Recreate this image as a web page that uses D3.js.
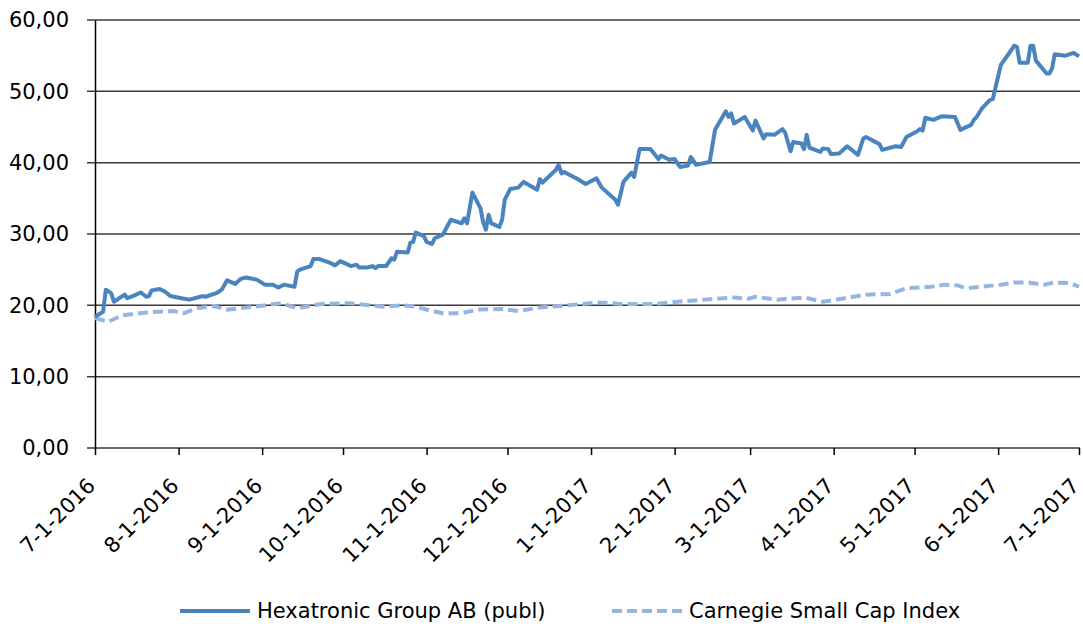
<!DOCTYPE html>
<html>
<head>
<meta charset="utf-8">
<script src="https://cdn.jsdelivr.net/npm/d3@7"></script>
<style>
  body { margin: 0; background: #fff; }
  text { font-family: "DejaVu Sans", sans-serif; fill: #000; }
</style>
</head>
<body>
<script>
// Hexatronic Group AB (publ)
const hexDates = ["2016-07-01","2016-07-04","2016-07-05","2016-07-07","2016-07-08","2016-07-12","2016-07-13","2016-07-15","2016-07-18","2016-07-20","2016-07-21","2016-07-22","2016-07-25","2016-07-27","2016-07-29",
  "2016-08-02","2016-08-05","2016-08-08","2016-08-10","2016-08-11","2016-08-15","2016-08-17","2016-08-19","2016-08-22","2016-08-24","2016-08-26","2016-08-30",
  "2016-09-02","2016-09-05","2016-09-07","2016-09-09","2016-09-13","2016-09-14","2016-09-15","2016-09-19","2016-09-20","2016-09-22","2016-09-26","2016-09-28","2016-09-30",
  "2016-10-04","2016-10-06","2016-10-07","2016-10-10","2016-10-12","2016-10-13","2016-10-14","2016-10-17","2016-10-19","2016-10-20","2016-10-21","2016-10-25","2016-10-26","2016-10-27","2016-10-28","2016-10-31",
  "2016-11-01","2016-11-03","2016-11-04","2016-11-07","2016-11-08","2016-11-10","2016-11-14","2016-11-15","2016-11-16","2016-11-18","2016-11-21","2016-11-22","2016-11-23","2016-11-24","2016-11-25","2016-11-28","2016-11-29","2016-11-30",
  "2016-12-02","2016-12-05","2016-12-07","2016-12-12","2016-12-13","2016-12-14","2016-12-19","2016-12-20","2016-12-21","2016-12-22","2016-12-27","2016-12-30",
  "2017-01-03","2017-01-05","2017-01-10","2017-01-11","2017-01-13","2017-01-16","2017-01-17","2017-01-19","2017-01-23","2017-01-26","2017-01-27","2017-01-30",
  "2017-02-01","2017-02-03","2017-02-06","2017-02-07","2017-02-09","2017-02-14","2017-02-16","2017-02-20","2017-02-21","2017-02-22","2017-02-23","2017-02-27",
  "2017-03-02","2017-03-03","2017-03-06","2017-03-07","2017-03-10","2017-03-13","2017-03-14","2017-03-16","2017-03-17","2017-03-20","2017-03-21","2017-03-22","2017-03-23","2017-03-27","2017-03-28","2017-03-30","2017-03-31",
  "2017-04-03","2017-04-06","2017-04-10","2017-04-12","2017-04-13","2017-04-18","2017-04-19","2017-04-24","2017-04-26","2017-04-28",
  "2017-05-02","2017-05-03","2017-05-04","2017-05-05","2017-05-08","2017-05-11","2017-05-16","2017-05-18","2017-05-22","2017-05-23","2017-05-24","2017-05-26","2017-05-29","2017-05-30",
  "2017-06-02","2017-06-05","2017-06-07","2017-06-08","2017-06-09","2017-06-12","2017-06-13","2017-06-14","2017-06-15","2017-06-19","2017-06-20","2017-06-21","2017-06-22","2017-06-26","2017-06-29","2017-07-01"];
const hexValues = [18.4,19.1,22.2,21.7,20.5,21.5,21.0,21.3,21.8,21.2,21.3,22.1,22.3,21.9,21.3,
  21.0,20.8,21.1,21.3,21.2,21.7,22.2,23.5,23.0,23.7,23.9,23.6,
  22.9,22.9,22.5,22.9,22.6,24.7,25.0,25.5,26.5,26.5,26.0,25.6,26.2,
  25.5,25.7,25.3,25.3,25.5,25.2,25.5,25.5,26.6,26.4,27.5,27.4,28.8,28.9,30.2,29.7,
  28.9,28.6,29.4,29.9,30.6,32.0,31.5,32.2,31.5,35.8,33.6,31.6,30.6,32.7,31.5,31.0,32.0,34.8,
  36.3,36.5,37.3,36.2,37.7,37.2,39.0,39.7,38.5,38.7,37.7,37.0,
  37.8,36.5,34.8,34.1,37.3,38.6,38.0,41.9,41.9,40.5,41.0,40.4,
  40.5,39.4,39.6,40.8,39.7,40.1,44.6,47.2,46.4,46.9,45.5,46.4,
  44.5,45.9,43.4,44.0,43.9,44.7,44.2,41.6,42.9,42.7,41.9,43.9,42.1,41.5,42.0,41.9,41.2,
  41.3,42.3,41.1,43.4,43.6,42.6,41.8,42.3,42.2,43.6,
  44.4,44.7,44.5,46.3,46.0,46.5,46.4,44.6,45.3,46.0,46.4,47.6,48.8,48.9,
  53.7,55.3,56.4,56.2,54.0,54.0,56.4,56.4,54.3,52.5,52.5,53.2,55.2,55.0,55.4,54.9];

// Carnegie Small Cap Index
const idxDates = ["2016-07-01","2016-07-06","2016-07-11","2016-07-20","2016-07-30","2016-08-03","2016-08-08","2016-08-14","2016-08-19","2016-08-29",
  "2016-09-08","2016-09-14","2016-09-23","2016-10-03","2016-10-16","2016-10-23","2016-10-28","2016-11-02","2016-11-07","2016-11-14","2016-11-20","2016-11-29",
  "2016-12-05","2016-12-13","2016-12-23","2017-01-04","2017-01-12","2017-01-25","2017-02-02","2017-02-12","2017-02-23","2017-02-28",
  "2017-03-03","2017-03-11","2017-03-21","2017-03-28","2017-04-05","2017-04-13","2017-04-22","2017-04-28","2017-05-07","2017-05-12","2017-05-17","2017-05-20",
  "2017-06-02","2017-06-07","2017-06-12","2017-06-18","2017-06-22","2017-06-28","2017-07-01"];
const idxValues = [18.2,17.7,18.6,19.0,19.2,18.9,19.6,19.9,19.4,19.8,
  20.3,19.6,20.2,20.3,19.8,20.0,19.8,19.3,18.9,18.9,19.4,19.5,
  19.2,19.7,20.0,20.4,20.2,20.2,20.5,20.8,21.1,20.9,
  21.2,20.8,21.1,20.5,21.0,21.5,21.6,22.4,22.6,22.9,22.8,22.4,
  22.9,23.2,23.2,22.9,23.2,23.1,22.6];

const yTicks = [0, 10, 20, 30, 40, 50, 60];
const seriesNames = ["Hexatronic Group AB (publ)", "Carnegie Small Cap Index"];

const W = 1083, H = 627;
const plot = { left: 95, right: 1079, top: 20, bottom: 448 };
const fontSize = "21px";

const parse = d3.timeParse("%Y-%m-%d");
const hex = hexDates.map((d, i) => ({ date: parse(d), value: hexValues[i] }));
const idx = idxDates.map((d, i) => ({ date: parse(d), value: idxValues[i] }));

const svg = d3.select("body").append("svg")
  .attr("width", W)
  .attr("height", H);

const x = d3.scaleTime()
  .domain([parse("2016-07-01"), parse("2017-07-01")])
  .range([plot.left, plot.right]);
const y = d3.scaleLinear()
  .domain([0, 60])
  .range([plot.bottom, plot.top]);

// gridlines
svg.append("g")
  .selectAll("line")
  .data(yTicks)
  .join("line")
  .attr("x1", plot.left - 8)
  .attr("x2", plot.right + 1)
  .attr("y1", d => y(d))
  .attr("y2", d => y(d))
  .attr("stroke", "#3a3a3a")
  .attr("stroke-width", 1.5);

// y axis
const yAxis = svg.append("g")
  .attr("transform", `translate(${plot.left},0)`)
  .call(d3.axisLeft(y).tickValues(yTicks).tickSize(0).tickPadding(26)
    .tickFormat(d => d3.format(".2f")(d).replace(".", ",")));
yAxis.select(".domain").attr("stroke", "#000").attr("stroke-width", 1.5);
yAxis.selectAll("text").style("font-size", fontSize).attr("font-family", null);

// x axis
const xAxis = svg.append("g")
  .attr("transform", `translate(0,${plot.bottom})`)
  .call(d3.axisBottom(x).ticks(d3.timeMonth.every(1)).tickSize(7)
    .tickFormat(d3.timeFormat("%-m-%-d-%Y")));
xAxis.select(".domain").remove();
xAxis.selectAll("line").attr("stroke", "#000").attr("stroke-width", 1.5);
xAxis.selectAll("text")
  .style("font-size", fontSize)
  .attr("font-family", null)
  .attr("text-anchor", "end")
  .attr("dy", null)
  .attr("y", 0)
  .attr("transform", "translate(1,39) rotate(-45)");

const line = d3.line()
  .x(d => x(d.date))
  .y(d => y(d.value));

svg.append("path")
  .datum(idx)
  .attr("fill", "none")
  .attr("stroke", "#95b6de")
  .attr("stroke-width", 4)
  .attr("stroke-dasharray", "10,5")
  .attr("d", line);

svg.append("path")
  .datum(hex)
  .attr("fill", "none")
  .attr("stroke", "#4a84bf")
  .attr("stroke-width", 4)
  .attr("stroke-linejoin", "round")
  .attr("d", line);

// legend
const legend = svg.append("g");
const legendItems = [
  { name: seriesNames[0], x: 180, color: "#4a84bf", dash: null },
  { name: seriesNames[1], x: 612, color: "#95b6de", dash: "10,5" }
];
legendItems.forEach(it => {
  legend.append("line")
    .attr("x1", it.x).attr("x2", it.x + 70)
    .attr("y1", 611).attr("y2", 611)
    .attr("stroke", it.color)
    .attr("stroke-width", 4)
    .attr("stroke-dasharray", it.dash);
  legend.append("text")
    .attr("x", it.x + 77)
    .attr("y", 611)
    .attr("dy", "0.35em")
    .style("font-size", fontSize)
    .text(it.name);
});
</script>
</body>
</html>
